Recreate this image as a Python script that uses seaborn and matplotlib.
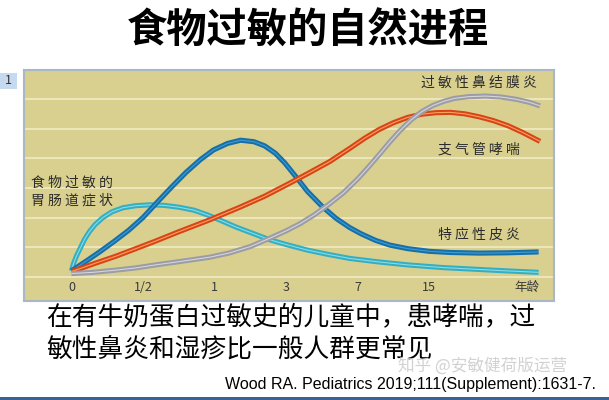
import matplotlib
matplotlib.use("Agg")
import matplotlib.pyplot as plt
from matplotlib.patches import Rectangle
import numpy as np
import pandas as pd
import seaborn as sns

# ---------------- data ----------------
tick_labels = ["0", "1/2", "1", "3", "7", "15"]
axis_unit_label = "年龄"

series_names = ["食物过敏的胃肠道症状", "特应性皮炎", "支气管哮喘", "过敏性鼻结膜炎"]

x_gi = [0.0, 0.03, 0.07, 0.12, 0.18, 0.25, 0.33, 0.44, 0.57, 0.72, 0.9, 1.1, 1.3, 1.5,
        1.71, 1.9, 2.04, 2.3, 2.53, 2.77, 3.0, 3.3, 3.6, 3.89, 4.3, 4.71, 5.2, 5.6, 6.0, 6.53]
y_gi = [0.20, 0.45, 0.70, 0.95, 1.25, 1.52, 1.76, 2.00, 2.20, 2.33, 2.40, 2.43, 2.41, 2.35,
        2.25, 2.09, 1.95, 1.68, 1.47, 1.25, 1.09, 0.90, 0.75, 0.62, 0.50, 0.40, 0.31, 0.26, 0.21, 0.15]

x_ad = [0.0, 0.2, 0.4, 0.6, 0.8, 1.0, 1.2, 1.4, 1.6, 1.8, 1.985, 2.18, 2.365, 2.55, 2.7, 2.85,
        2.98, 3.13, 3.3, 3.51, 3.7, 3.89, 4.05, 4.25, 4.45, 4.7, 5.0, 5.3, 5.7, 6.1, 6.53]
y_ad = [0.20, 0.52, 0.85, 1.20, 1.57, 2.00, 2.52, 3.03, 3.52, 3.95, 4.28, 4.50, 4.61, 4.56,
        4.42, 4.17, 3.85, 3.40, 2.88, 2.36, 1.97, 1.66, 1.45, 1.23, 1.07, 0.95, 0.86, 0.82,
        0.80, 0.81, 0.84]

x_asthma = [0.0, 0.15, 0.3, 0.627, 0.9, 1.17, 1.5, 1.93, 2.365, 2.7, 3.02, 3.3, 3.61, 3.9,
            4.1, 4.3, 4.5, 4.70, 4.9, 5.1, 5.3, 5.5, 5.7, 5.9, 6.1, 6.3, 6.55]
y_asthma = [0.18, 0.30, 0.43, 0.70, 0.95, 1.20, 1.52, 1.92, 2.36, 2.72, 3.12, 3.48, 3.89, 4.35,
            4.68, 4.97, 5.20, 5.38, 5.49, 5.54, 5.55, 5.50, 5.40, 5.27, 5.10, 4.88, 4.57]

x_rhin = [0.0, 0.3, 0.6, 0.9, 1.17, 1.5, 1.93, 2.2, 2.5, 2.77, 3.0, 3.2, 3.4, 3.6, 3.8, 4.0,
          4.15, 4.3, 4.45, 4.6, 4.75, 4.9, 5.05, 5.2, 5.35, 5.55, 5.79, 6.0, 6.22, 6.4, 6.55]
y_rhin = [0.11, 0.15, 0.22, 0.30, 0.40, 0.51, 0.66, 0.80, 1.02, 1.30, 1.55, 1.80, 2.10, 2.45,
          2.83, 3.30, 3.70, 4.12, 4.55, 4.95, 5.30, 5.58, 5.78, 5.92, 6.02, 6.08, 6.10, 6.07,
          5.99, 5.89, 5.77]

# ---------------- styling ----------------
outer_colors = {"食物过敏的胃肠道症状": "#33AFC3", "特应性皮炎": "#176FA8",
                "支气管哮喘": "#D9431A", "过敏性鼻结膜炎": "#9C9CA6"}
inner_colors = {"食物过敏的胃肠道症状": "#8FD9E3", "特应性皮炎": "#3E9BD2",
                "支气管哮喘": "#F7A456", "过敏性鼻结膜炎": "#D4D4DA"}

sns.set_style("white")
plt.rcParams["font.family"] = ["Noto Sans CJK SC", "DejaVu Sans"]

frames = []
for name, xs, ys in [(series_names[0], x_gi, y_gi), (series_names[1], x_ad, y_ad),
                     (series_names[2], x_asthma, y_asthma), (series_names[3], x_rhin, y_rhin)]:
    frames.append(pd.DataFrame({"x": xs, "y": ys, "series": name}))
df = pd.concat(frames, ignore_index=True)

W, H = 609, 400
fig = plt.figure(figsize=(W / 100, H / 100), dpi=100)
fig.patch.set_facecolor("white")

def fx(px):
    return px / W

def fy(py):
    return 1 - py / H

left, right, top, bottom = 24, 554, 70, 300.5
ax = fig.add_axes([fx(left), fy(bottom), (right - left) / W, (bottom - top) / H])
ax.set_facecolor("#D9D08F")
ax.set_xlim(-0.663, 6.745)
ax.set_ylim(-0.80, 6.98)

for yv in range(7):
    ax.axhline(yv, color="#F2EDC9", lw=1.1, zorder=1)

for name in series_names:
    sub = df[df["series"] == name]
    sns.lineplot(data=sub, x="x", y="y", sort=False, estimator=None, ax=ax,
                 color=outer_colors[name], lw=3.7, legend=False, zorder=3,
                 solid_capstyle="butt", solid_joinstyle="round")
    sns.lineplot(data=sub, x="x", y="y", sort=False, estimator=None, ax=ax,
                 color=inner_colors[name], lw=0.8, legend=False, zorder=3,
                 solid_capstyle="butt", solid_joinstyle="round")

ax.set_xticks([])
ax.set_yticks([])
ax.set_xlabel("")
ax.set_ylabel("")
for sp in ax.spines.values():
    sp.set_color("#A9B7C6")
    sp.set_linewidth(1.5)

txt_color = "#2B2B2B"
for i, lab in enumerate(tick_labels):
    ax.text(i, -0.36, lab, ha="center", va="center", fontsize=9, color="#3A3A3A")
ax.text(6.36, -0.36, axis_unit_label, ha="center", va="center", fontsize=9, color="#3A3A3A")

ax.text(4.88, 6.55, " ".join("过敏性鼻结膜炎"), ha="left", va="center", fontsize=10, color=txt_color)
ax.text(5.12, 4.28, " ".join("支气管哮喘"), ha="left", va="center", fontsize=10, color=txt_color)
ax.text(5.12, 1.41, " ".join("特应性皮炎"), ha="left", va="center", fontsize=10, color=txt_color)
ax.text(-0.56, 3.16, " ".join("食物过敏的"), ha="left", va="center", fontsize=10, color=txt_color)
ax.text(-0.56, 2.59, " ".join("胃肠道症状"), ha="left", va="center", fontsize=10, color=txt_color)

# ---------------- slide texts ----------------
fig.text(fx(308.5), fy(31), "食物过敏的自然进程", ha="center", va="center",
         fontsize=29, fontweight="bold", color="black")

fig.patches.append(Rectangle((0, fy(89)), fx(17), 16 / H, transform=fig.transFigure,
                             facecolor="#C6DAEF", edgecolor="none"))
fig.text(fx(8.5), fy(81), "1", ha="center", va="center", fontsize=9, color="#333333")

fig.text(fx(46), fy(317), "在有牛奶蛋白过敏史的儿童中，患哮喘，过", ha="left", va="center",
         fontsize=18.5, color="black")
fig.text(fx(46), fy(349), "敏性鼻炎和湿疹比一般人群更常见", ha="left", va="center",
         fontsize=18.5, color="black")

fig.text(fx(398), fy(366), "知乎 @安敏健荷版运营", ha="left", va="center",
         fontsize=12, color="#D2D2D2")
fig.text(fx(225), fy(385), "Wood RA. Pediatrics 2019;111(Supplement):1631-7.",
         ha="left", va="center", fontsize=11.5, color="black", family="Liberation Sans")

fig.patches.append(Rectangle((0, 0), 1, 3.5 / H, transform=fig.transFigure,
                             facecolor="#3B6294", edgecolor="none"))

fig.savefig("out.png", dpi=100, facecolor="white")
